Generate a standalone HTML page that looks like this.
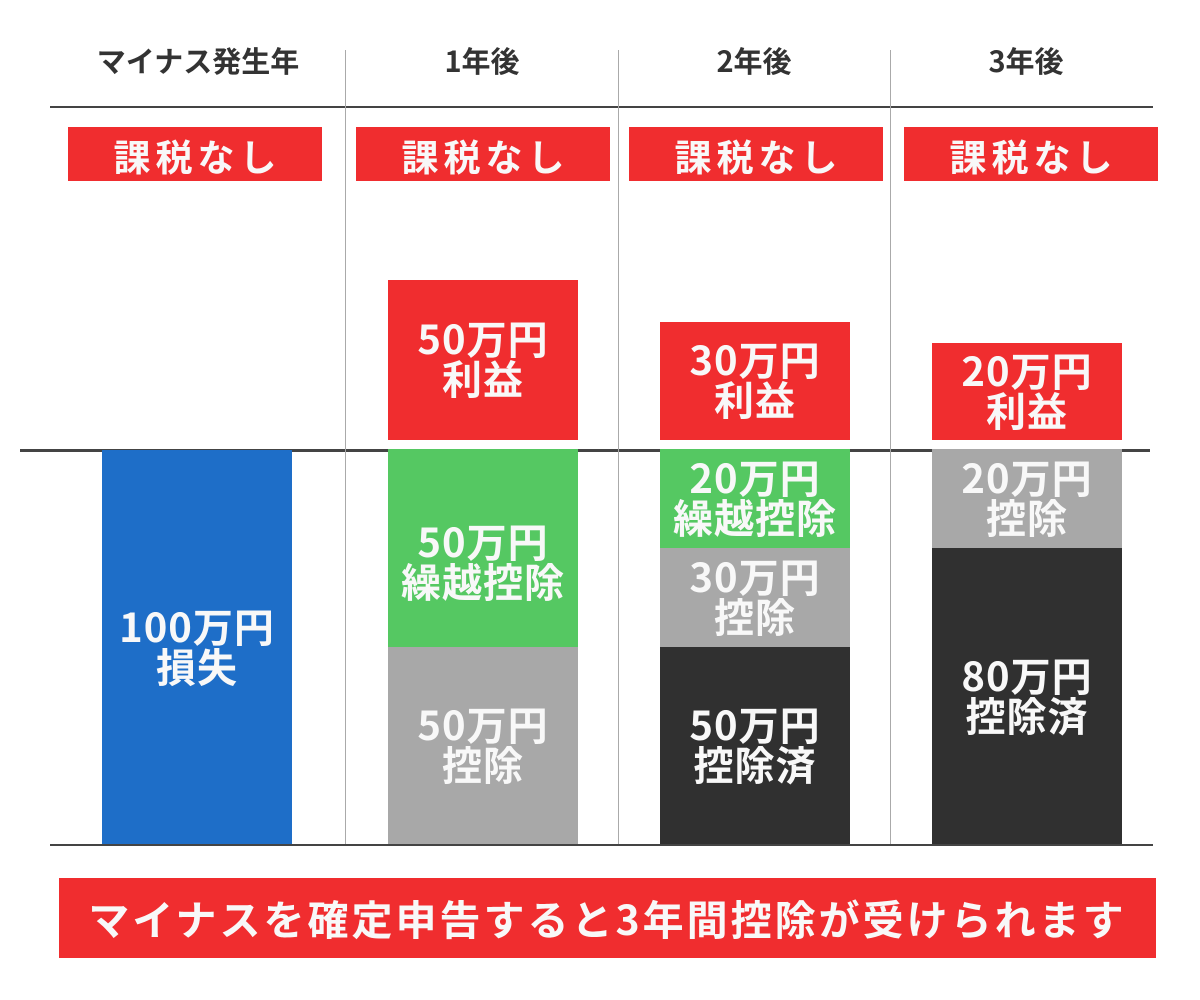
<!DOCTYPE html>
<html><head><meta charset="utf-8"><style>
body{margin:0;width:1200px;height:1000px;background:#fff;position:relative;overflow:hidden;font-family:"Noto Sans CJK JP",sans-serif;font-weight:bold}
div{position:absolute;box-sizing:border-box}
.h{top:40px;font-size:29px;color:#333;text-align:center;width:272px;line-height:40px}
.t{background:#f02d2f;color:#f8f8f8;font-size:37px;text-align:center;line-height:56px;height:54px;width:254px;top:127px;letter-spacing:5px;text-indent:5px}
.b{display:flex;align-items:center;justify-content:center;text-align:center;color:#f8f8f8;font-size:40px;line-height:40px;width:190px;letter-spacing:1px;padding-bottom:6px}
.v{width:1px;background:#aaa;top:50px;height:795px}
.r{background:#f02d2f}.g{background:#55c862}.y{background:#a8a8a8}.d{background:#303030}
</style></head><body>
<div class="h" style="left:62px;width:272px">マイナス発生年</div>
<div class="h" style="left:346px">1年後</div>
<div class="h" style="left:618px">2年後</div>
<div class="h" style="left:890px">3年後</div>
<div style="left:50px;top:106px;width:1103px;height:2px;background:#444"></div>
<div class="v" style="left:345px"></div><div class="v" style="left:618px"></div><div class="v" style="left:890px"></div>
<div class="t" style="left:68px">課税なし</div>
<div class="t" style="left:356px">課税なし</div>
<div class="t" style="left:629px">課税なし</div>
<div class="t" style="left:904px">課税なし</div>
<div class="b" style="left:102px;top:450px;height:395px;background:#1e6ec8">100万円<br>損失</div>
<div class="b r" style="left:388px;top:280px;height:160px">50万円<br>利益</div>
<div class="b g" style="left:388px;top:449px;height:198px;padding-bottom:0;padding-top:24px">50万円<br>繰越控除</div>
<div class="b y" style="left:388px;top:647px;height:198px">50万円<br>控除</div>
<div class="b r" style="left:660px;top:322px;height:118px">30万円<br>利益</div>
<div class="b g" style="left:660px;top:449px;height:99px">20万円<br>繰越控除</div>
<div class="b y" style="left:660px;top:548px;height:99px">30万円<br>控除</div>
<div class="b d" style="left:660px;top:647px;height:198px">50万円<br>控除済</div>
<div class="b r" style="left:932px;top:343px;height:97px">20万円<br>利益</div>
<div class="b y" style="left:932px;top:449px;height:99px">20万円<br>控除</div>
<div class="b d" style="left:932px;top:548px;height:297px">80万円<br>控除済</div>
<div style="left:20px;top:449px;width:1130px;height:3px;background:#444;z-index:-1"></div>
<div style="left:50px;top:844px;width:1103px;height:2px;background:#444"></div>
<div style="left:59px;top:878px;width:1097px;height:80px;background:#f02d2f;color:#f8f8f8;font-size:41px;line-height:78px;text-align:center;letter-spacing:3px">マイナスを確定申告すると3年間控除が受けられます</div>
</body></html>
